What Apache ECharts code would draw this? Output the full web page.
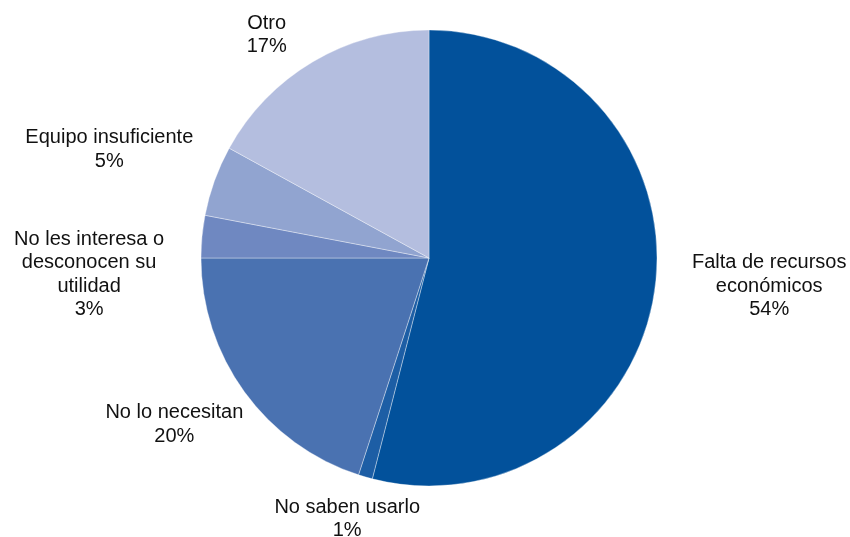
<!DOCTYPE html>
<html>
<head>
<meta charset="utf-8">
<script src="https://cdn.jsdelivr.net/npm/echarts@6/dist/echarts.min.js"></script>
<style>html,body{margin:0;padding:0;background:#fff}#c{width:850px;height:537px}</style>
</head>
<body>
<div id="c"></div>
<script>
const categories = ['Falta de recursos\neconómicos', 'No saben usarlo', 'No lo necesitan', 'No les interesa o\ndesconocen su\nutilidad', 'Equipo insuficiente', 'Otro'];
const values = [54, 1, 20, 3, 5, 17];
const colors = ['#02519b', '#1d5ea5', '#4a72b1', '#6f88c1', '#91a4d0', '#b4bedf'];
// small label nudges (px) relative to the library's outside-label placement
const labelNudge = [[2, -4], [68, 13], [28, 15], [-3, 41], [12, -21], [-6, -1]];

const chart = echarts.init(document.getElementById('c'), null, {renderer: 'canvas'});
chart.setOption({
  animation: false,
  series: [{
    type: 'pie',
    center: [429, 258],
    radius: 228,
    startAngle: 90,
    clockwise: true,
    avoidLabelOverlap: false,
    data: categories.map((n, i) => ({name: n, value: values[i], itemStyle: {color: colors[i]}})),
    itemStyle: {borderColor: 'rgba(255,255,255,0.6)', borderWidth: 0.6},
    label: {
      show: true,
      position: 'outside',
      formatter: '{b}\n{d}%',
      fontFamily: 'Liberation Sans, Arial, sans-serif',
      fontSize: 20,
      lineHeight: 23.5,
      color: '#111',
      distanceToLabelLine: 5
    },
    labelLine: {show: false, length: 30, length2: 0},
    labelLayout: function (p) {
      const r = p.labelRect;
      const n = labelNudge[p.dataIndex] || [0, 0];
      return {x: r.x + r.width / 2 + n[0], y: r.y + r.height / 2 + n[1], align: 'center', verticalAlign: 'middle'};
    }
  }]
});
</script>
</body>
</html>
